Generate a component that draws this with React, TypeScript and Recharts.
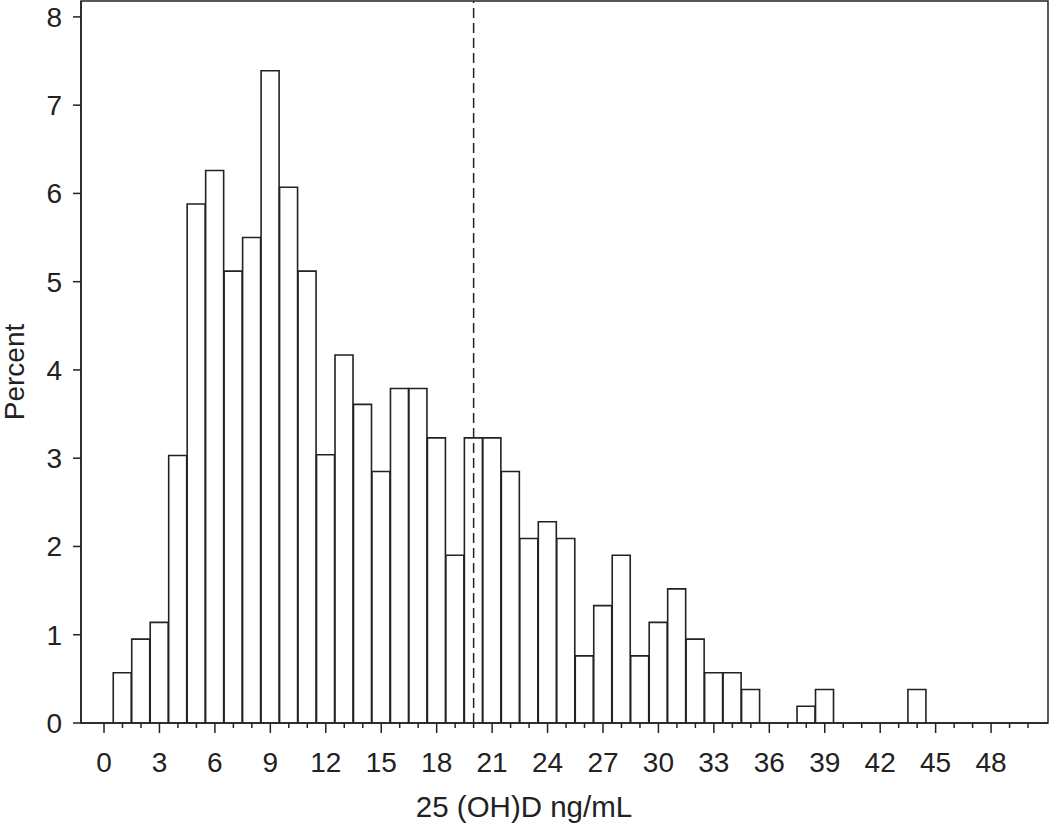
import React from "react";
import { BarChart, Bar, XAxis, YAxis, ReferenceLine, ReferenceArea } from "recharts";

// histogram bins (ng/mL, bin centres) and share of subjects in each bin
const bins = [
  0, 1, 2, 3, 4, 5, 6, 7, 8, 9, 10, 11, 12, 13, 14, 15, 16, 17, 18, 19, 20, 21, 22, 23, 24, 25,
  26, 27, 28, 29, 30, 31, 32, 33, 34, 35, 36, 37, 38, 39, 40, 41, 42, 43, 44, 45, 46, 47, 48, 49, 50,
];
const percent = [
  0, 0.57, 0.95, 1.14, 3.03, 5.88, 6.26, 5.12, 5.5, 7.39, 6.07, 5.12, 3.04, 4.17, 3.61, 2.85, 3.79,
  3.79, 3.23, 1.9, 3.23, 3.23, 2.85, 2.09, 2.28, 2.09, 0.76, 1.33, 1.9, 0.76, 1.14, 1.52, 0.95, 0.57,
  0.57, 0.38, 0, 0, 0.19, 0.38, 0, 0, 0, 0, 0.38, 0, 0, 0, 0, 0, 0,
];
const yTicks = [0, 1, 2, 3, 4, 5, 6, 7, 8];
const cutoff = 20;

const xDomain = [-1.245, 51.08];
const yDomain = [0, 8.18];

const data = bins.map((b, i) => ({ bin: b, percent: percent[i] }));

const ink = "#222";
const font = "'Liberation Sans', Arial, sans-serif";

function XTick(props: any) {
  const { x, y, payload } = props;
  const major = payload.value % 3 === 0 && payload.value <= 48;
  return (
    <g>
      <line x1={x} x2={x} y1={y} y2={y + (major ? 10 : 5)} stroke={ink} strokeWidth={1.5} />
      {major && (
        <text x={x} y={y + 49} textAnchor="middle" fontSize={28} fontFamily={font} fill={ink}>
          {payload.value}
        </text>
      )}
    </g>
  );
}

export default function App() {
  return (
    <div style={{ position: "absolute", left: 0, top: 0, background: "#fff" }}>
      <BarChart
        width={1050}
        height={824}
        data={data}
        margin={{ top: 1, right: 2, left: 0, bottom: 0 }}
        barCategoryGap={0}
        barGap={0}
      >
        <XAxis
          dataKey="bin"
          type="number"
          domain={xDomain}
          ticks={bins}
          interval={0}
          allowDataOverflow
          height={101}
          tickLine={false}
          tickSize={0}
          tickMargin={0}
          tick={<XTick />}
          axisLine={{ stroke: ink, strokeWidth: 1.5 }}
          label={{
            position: "insideBottom",
            content: (p: any) => (
              <text
                x={p.viewBox.x + 443}
                y={p.viewBox.y + 94}
                textAnchor="middle"
                fontSize={29.5}
                fontFamily={font}
                fill={ink}
              >
                25 (OH)D ng/mL
              </text>
            ),
          }}
        />
        <YAxis
          type="number"
          domain={yDomain}
          ticks={yTicks}
          allowDataOverflow
          width={81}
          tickSize={8}
          tickMargin={11}
          tick={{ fontSize: 28, fontFamily: font, fill: ink }}
          tickLine={{ stroke: ink, strokeWidth: 1.5 }}
          axisLine={{ stroke: ink, strokeWidth: 1.5 }}
          label={{
            position: "insideLeft",
            content: (p: any) => {
              const cx = p.viewBox.x + 24;
              const cy = p.viewBox.y + p.viewBox.height / 2 + 10;
              return (
                <text
                  x={cx}
                  y={cy}
                  transform={`rotate(-90 ${cx} ${cy})`}
                  textAnchor="middle"
                  fontSize={28}
                  fontFamily={font}
                  fill={ink}
                >
                  Percent
                </text>
              );
            },
          }}
        />
        <ReferenceArea
          x1={xDomain[0]}
          x2={xDomain[1]}
          y1={yDomain[0]}
          y2={yDomain[1]}
          fill="none"
          fillOpacity={0}
          stroke={ink}
          strokeWidth={1.5}
          ifOverflow="visible"
        />
        <Bar dataKey="percent" fill="#fff" stroke={ink} strokeWidth={1.6} isAnimationActive={false} />
        <ReferenceLine x={cutoff} stroke={ink} strokeWidth={1.5} strokeDasharray="10 5" ifOverflow="visible" />
      </BarChart>
    </div>
  );
}
